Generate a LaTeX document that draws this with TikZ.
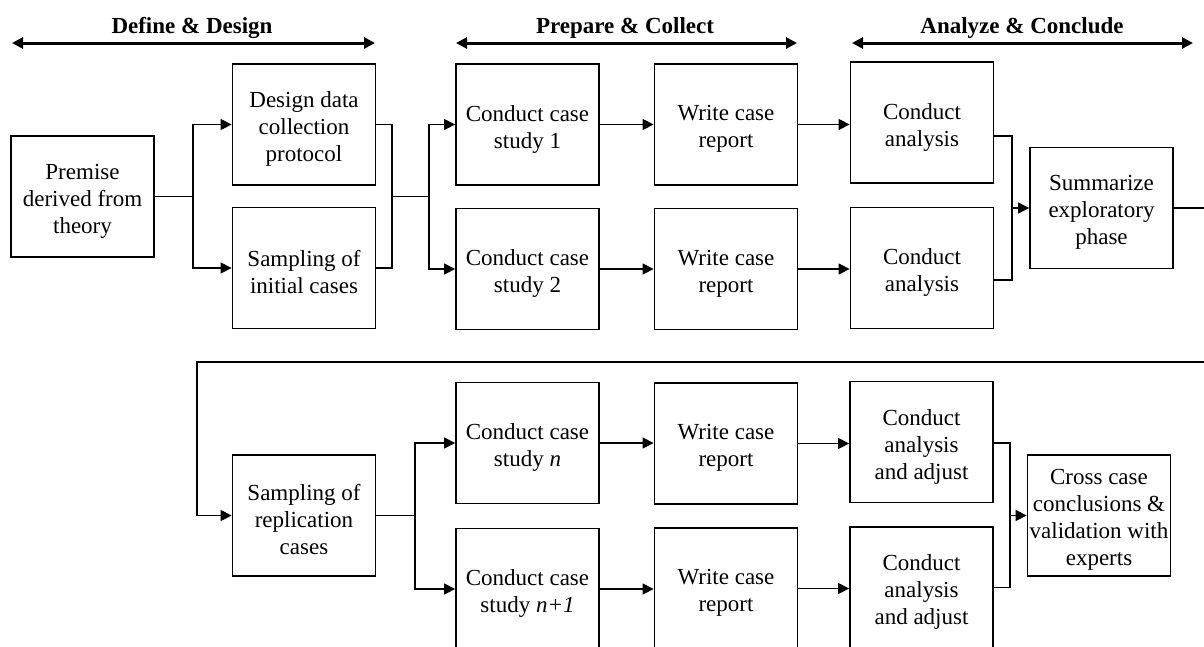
\documentclass[tikz,border=0pt]{standalone}
\usepackage{fontspec}
\setmainfont{Liberation Serif}
\usetikzlibrary{arrows.meta}
\tikzset{
  stagebox/.style={draw, line width=1.8pt, minimum width=143pt, minimum height=121pt, inner sep=0pt},
  boxtext/.style={inner sep=0pt, align=center, font=\fontsize{23}{27}\selectfont},
  flow/.style={line width=1.4pt, -{Triangle[length=11pt,width=11pt]}},
  plain/.style={line width=1.4pt},
  phase/.style={line width=3pt, {Triangle[length=11pt,width=11pt]}-{Triangle[length=11pt,width=11pt]}},
  phasetext/.style={font=\fontsize{23}{27}\selectfont\bfseries, inner sep=0pt}
}
\newcommand{\stage}[4]{%
  \node[stagebox] (#1) at (#2,#3) {};
  \node[boxtext] (#1t) at ([yshift=-4.5pt]#1.center) {#4};
}
\begin{document}
\begin{tikzpicture}[x=1pt,y=-1pt]
\useasboundingbox (0,0) rectangle (1204,646);
\clip (0,0) rectangle (1204,646);
% phase headers
\node[phasetext] (h1) at (192,27.5) {Define \& Design};
\node[phasetext] (h2) at (625,27.5) {Prepare \& Collect};
\node[phasetext] (h3) at (1022,27.5) {Analyze \& Conclude};
\coordinate (h1a) at (12,43); \coordinate (h1b) at (375,43);
\coordinate (h2a) at (456,43); \coordinate (h2b) at (797,43);
\coordinate (h3a) at (852,43); \coordinate (h3b) at (1193,43);
\draw[phase] (h1a) -- (h1b);
\draw[phase] (h2a) -- (h2b);
\draw[phase] (h3a) -- (h3b);
% top row
\stage{prem}{82.5}{196.5}{Premise\\derived from\\theory}
\stage{design}{304}{124.5}{Design data\\collection\\protocol}
\stage{sampi}{304}{268}{Sampling of\\initial cases}
\stage{ccs1}{527.5}{124.5}{Conduct case\\study 1}
\stage{ccs2}{527.5}{269}{Conduct case\\study 2}
\stage{wcr1}{726}{124.5}{Write case\\report}
\stage{wcr2}{726}{269}{Write case\\report}
\stage{ca1}{922}{122.5}{Conduct\\analysis}
\stage{ca2}{922}{268}{Conduct\\analysis}
\stage{summ}{1101.5}{208}{Summarize\\exploratory\\phase}
% bottom row
\stage{sampr}{304}{515.5}{Sampling of\\replication\\cases}
\stage{ccsn}{527.5}{443}{Conduct case\\study \textit{n}}
\stage{ccsn1}{527.5}{589}{Conduct case\\study \textit{n+1}}
\stage{wcrn}{726}{443.5}{Write case\\report}
\stage{wcrn1}{726}{588.5}{Write case\\report}
\stage{caa1}{921.5}{442}{Conduct\\analysis\\and adjust}
\stage{caa2}{921.5}{587.5}{Conduct\\analysis\\and adjust}
\stage{cross}{1099}{515.5}{Cross case\\conclusions \&\\validation with\\experts}
% junction coordinates
\coordinate (j1) at (193,196.5);
\coordinate (j2) at (392,196.5);
\coordinate (j3) at (429,196.5);
\coordinate (j4) at (1012,208);
\coordinate (j5) at (1215,208);
\coordinate (j6) at (1215,362);
\coordinate (j7) at (197,362);
\coordinate (j8) at (415,515.5);
\coordinate (j9) at (1010,515.5);
% top connectors
\draw[plain] (prem.east) -- (j1);
\draw[flow] (j1) |- (design.west);
\draw[flow] (j1) |- (sampi.west);
\draw[plain] (design.east) -| (j2);
\draw[plain] (sampi.east) -| (j2);
\draw[plain] (j2) -- (j3);
\draw[flow] (j3) |- (ccs1.west);
\draw[flow] (j3) |- (ccs2.west);
\draw[flow] (ccs1.east) -- (ccs1.east -| wcr1.west);
\draw[flow] (ccs2.east) -- (ccs2.east -| wcr2.west);
\draw[flow] (wcr1.east) -- (wcr1.east -| ca1.west);
\draw[flow] (wcr2.east) -- (wcr2.east -| ca2.west);
\draw[plain] ([yshift=-13.5pt]ca1.east) -| (j4);
\draw[plain] ([yshift=-12pt]ca2.east) -| (j4);
\draw[flow] (j4) -- (summ.west);
% feedback
\draw[flow] (summ.east) -- (j5) -- (j6) -- (j7) |- (sampr.west);
% bottom connectors
\draw[plain] (sampr.east) -- (j8);
\draw[flow] (j8) |- (ccsn.west);
\draw[flow] (j8) |- (ccsn1.west);
\draw[flow] (ccsn.east) -- (ccsn.east -| wcrn.west);
\draw[flow] (ccsn1.east) -- (ccsn1.east -| wcrn1.west);
\draw[flow] (wcrn.east) -- (wcrn.east -| caa1.west);
\draw[flow] (wcrn1.east) -- (wcrn1.east -| caa2.west);
\draw[plain] ([yshift=-1pt]caa1.east) -| (j9);
\draw[plain] (caa2.east) -| (j9);
\draw[flow] (j9) -- (cross.west);
\end{tikzpicture}
\end{document}
